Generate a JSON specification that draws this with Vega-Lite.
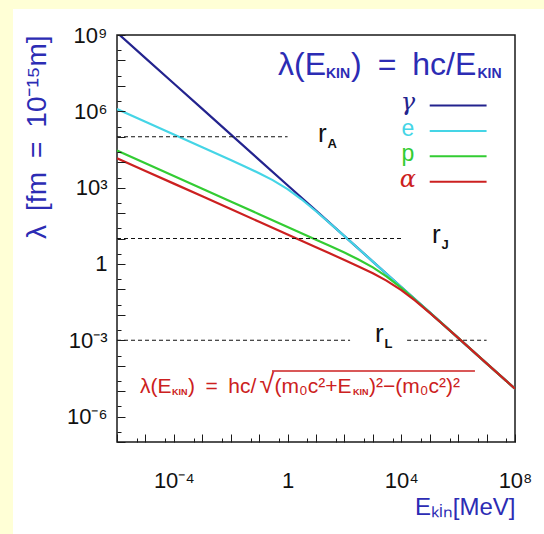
{
  "$schema": "https://vega.github.io/schema/vega-lite/v6.json",
  "width": 398,
  "height": 407,
  "autosize": {"type": "none"},
  "padding": {"left": 117, "top": 35, "right": 29, "bottom": 92},
  "background": "#ffffff",
  "config": {
    "view": {"stroke": "#1a1a1a", "strokeWidth": 1.5},
    "font": "Liberation Sans"
  },
  "resolve": {"axis": {"x": "independent", "y": "independent"}},
  "datasets": {
    "curves": [
      {"s": "γ", "E": 1e-6, "L": 1.23984e9},
      {"s": "γ", "E": 1e-5, "L": 1.23984e8},
      {"s": "γ", "E": 1e-4, "L": 1.23984e7},
      {"s": "γ", "E": 1e-3, "L": 1.23984e6},
      {"s": "γ", "E": 0.01, "L": 123984},
      {"s": "γ", "E": 0.1, "L": 12398.4},
      {"s": "γ", "E": 1, "L": 1239.84},
      {"s": "γ", "E": 10, "L": 123.984},
      {"s": "γ", "E": 100, "L": 12.3984},
      {"s": "γ", "E": 1000, "L": 1.23984},
      {"s": "γ", "E": 10000, "L": 0.123984},
      {"s": "γ", "E": 100000, "L": 0.0123984},
      {"s": "γ", "E": 1000000, "L": 0.00123984},
      {"s": "γ", "E": 10000000, "L": 0.000123984},
      {"s": "γ", "E": 100000000, "L": 0.0000123984},
      {"s": "e", "E": 1e-6, "L": 1226400},
      {"s": "e", "E": 1e-5, "L": 387830},
      {"s": "e", "E": 1e-4, "L": 122640},
      {"s": "e", "E": 1e-3, "L": 38764},
      {"s": "e", "E": 0.01, "L": 12205},
      {"s": "e", "E": 0.03, "L": 6979.1},
      {"s": "e", "E": 0.1, "L": 3701.5},
      {"s": "e", "E": 0.3, "L": 1968.8},
      {"s": "e", "E": 1, "L": 871.93},
      {"s": "e", "E": 3, "L": 356.93},
      {"s": "e", "E": 10, "L": 118.10},
      {"s": "e", "E": 30, "L": 40.642},
      {"s": "e", "E": 100, "L": 12.3355},
      {"s": "e", "E": 300, "L": 4.1258},
      {"s": "e", "E": 1000, "L": 1.23921},
      {"s": "e", "E": 10000, "L": 0.123978},
      {"s": "e", "E": 100000, "L": 0.0123984},
      {"s": "e", "E": 1000000, "L": 0.00123984},
      {"s": "e", "E": 10000000, "L": 0.000123984},
      {"s": "e", "E": 100000000, "L": 0.0000123984},
      {"s": "p", "E": 1e-6, "L": 28621},
      {"s": "p", "E": 1e-5, "L": 9050.9},
      {"s": "p", "E": 1e-4, "L": 2862.1},
      {"s": "p", "E": 1e-3, "L": 905.08},
      {"s": "p", "E": 0.01, "L": 286.21},
      {"s": "p", "E": 0.1, "L": 90.506},
      {"s": "p", "E": 1, "L": 28.613},
      {"s": "p", "E": 10, "L": 9.0268},
      {"s": "p", "E": 30, "L": 5.1842},
      {"s": "p", "E": 100, "L": 2.78877},
      {"s": "p", "E": 300, "L": 1.53435},
      {"s": "p", "E": 1000, "L": 0.73102},
      {"s": "p", "E": 3000, "L": 0.324158},
      {"s": "p", "E": 10000, "L": 0.113768},
      {"s": "p", "E": 30000, "L": 0.040093},
      {"s": "p", "E": 100000, "L": 0.012284},
      {"s": "p", "E": 300000, "L": 0.00411992},
      {"s": "p", "E": 1000000, "L": 0.00123868},
      {"s": "p", "E": 10000000, "L": 0.000123972},
      {"s": "p", "E": 100000000, "L": 0.0000123983},
      {"s": "α", "E": 1e-6, "L": 14360},
      {"s": "α", "E": 1e-5, "L": 4541.0},
      {"s": "α", "E": 1e-4, "L": 1436.0},
      {"s": "α", "E": 1e-3, "L": 454.10},
      {"s": "α", "E": 0.01, "L": 143.60},
      {"s": "α", "E": 0.1, "L": 45.410},
      {"s": "α", "E": 1, "L": 14.359},
      {"s": "α", "E": 10, "L": 4.5379},
      {"s": "α", "E": 30, "L": 2.6165},
      {"s": "α", "E": 100, "L": 1.42644},
      {"s": "α", "E": 300, "L": 0.81287},
      {"s": "α", "E": 1000, "L": 0.42640},
      {"s": "α", "E": 3000, "L": 0.221384},
      {"s": "α", "E": 10000, "L": 0.093845},
      {"s": "α", "E": 30000, "L": 0.036988},
      {"s": "α", "E": 100000, "L": 0.011961},
      {"s": "α", "E": 300000, "L": 0.0040824},
      {"s": "α", "E": 1000000, "L": 0.00123525},
      {"s": "α", "E": 10000000, "L": 0.000123938},
      {"s": "α", "E": 100000000, "L": 0.0000123979}
    ],
    "dashes": [
      {"name": "rA", "x1": 1e-6, "x2": 1, "y": 100000},
      {"name": "rJ", "x1": 1e-6, "x2": 10000, "y": 10},
      {"name": "rL", "x1": 1e-6, "x2": 158, "y": 0.001},
      {"name": "rL", "x1": 16000, "x2": 10000000, "y": 0.001}
    ],
    "rlabels": [
      {"r": "r", "sub": "A", "x": 11.75, "y": 61660},
      {"r": "r", "sub": "J", "x": 120000, "y": 6.67},
      {"r": "r", "sub": "L", "x": 1189, "y": 0.00085}
    ],
    "legend": [
      {"s": "γ", "it": true, "x1": 100000, "x2": 10000000, "tx": 17000, "y": 1700000},
      {"s": "e", "it": false, "x1": 100000, "x2": 10000000, "tx": 17000, "y": 170000},
      {"s": "p", "it": false, "x1": 100000, "x2": 10000000, "tx": 17000, "y": 17000},
      {"s": "α", "it": true, "x1": 100000, "x2": 10000000, "tx": 17000, "y": 1700}
    ],
    "titleAnchor": [{"x": 0.46, "y": 26900000}],
    "formulaAnchor": [{"x": 6.46e-6, "y": 8.5e-6}],
    "overline": [{"x1": 0.283, "x2": 3900000, "y": 6.2e-5}],
    "blank": [{}]
  },
  "layer": [
    {
      "data": {"name": "blank"},
      "mark": {"type": "rect", "color": "#ffffd6"},
      "encoding": {
        "x": {"datum": 1e-30, "type": "quantitative", "scale": {"type": "log", "domain": [1e-6, 1e8], "nice": false}, "axis": null},
        "x2": {"datum": 2.2e-10},
        "y": {"datum": 1e-30, "type": "quantitative", "scale": {"type": "log", "domain": [1e-7, 1e9], "nice": false}, "axis": null},
        "y2": {"datum": 1e30}
      }
    },
    {
      "data": {"name": "blank"},
      "mark": {"type": "rect", "color": "#ffffd6"},
      "encoding": {
        "x": {"datum": 1e-30, "type": "quantitative", "scale": {"type": "log", "domain": [1e-6, 1e8], "nice": false}, "axis": null},
        "x2": {"datum": 1e30},
        "y": {"datum": 1.05e10, "type": "quantitative", "scale": {"type": "log", "domain": [1e-7, 1e9], "nice": false}, "axis": null},
        "y2": {"datum": 1e30}
      }
    },
    {
      "data": {"name": "curves"},
      "mark": {"type": "line", "clip": true, "strokeWidth": 2.2},
      "encoding": {
        "x": {
          "field": "E", "type": "quantitative",
          "scale": {"type": "log", "domain": [1e-6, 1e8], "nice": false},
          "axis": {
            "values": [1e-6, 5e-6, 1e-5, 5e-5, 1e-4, 5e-4, 1e-3, 5e-3, 0.01, 0.05, 0.1, 0.5, 1, 5, 10, 50, 100, 500, 1000, 5000, 10000, 50000, 100000, 500000, 1000000, 5000000, 10000000, 50000000, 100000000],
            "labelExpr": "datum.value == 1e-4 ? '10⁻⁴' : datum.value == 1 ? '1' : datum.value == 1e4 ? '10⁴' : datum.value == 1e8 ? '10⁸' : ''",
            "tickSize": {"condition": {"test": "abs(log(datum.value)/LN10 - round(log(datum.value)/LN10)) < 0.01", "value": -8}, "value": -4},
            "tickColor": "#1a1a1a", "tickWidth": 1,
            "domain": false, "grid": false,
            "labelFont": "Liberation Sans", "labelFontSize": 22, "labelColor": "#111111",
            "labelPadding": 36, "labelFlush": false, "labelOverlap": false, "labelBound": false,
            "title": "Eₖᵢₙ[MeV]", "titleColor": "#2c2cb4", "titleFont": "Liberation Sans", "titleFontSize": 24, "titleFontWeight": "normal",
            "titleAnchor": "end", "titlePadding": 0,
            "zindex": 1
          }
        },
        "y": {
          "field": "L", "type": "quantitative",
          "scale": {"type": "log", "domain": [1e-7, 1e9], "nice": false},
          "axis": {
            "values": [1e-7, 2.5e-7, 1e-6, 2.5e-6, 1e-5, 2.5e-5, 1e-4, 2.5e-4, 1e-3, 2.5e-3, 0.01, 0.025, 0.1, 0.25, 1, 2.5, 10, 25, 100, 250, 1000, 2500, 10000, 25000, 100000, 250000, 1000000, 2500000, 10000000, 25000000, 100000000, 250000000, 1000000000],
            "labelExpr": "datum.value == 1e9 ? '10⁹' : datum.value == 1e6 ? '10⁶' : datum.value == 1e3 ? '10³' : datum.value == 1 ? '1' : datum.value == 1e-3 ? '10⁻³' : datum.value == 1e-6 ? '10⁻⁶' : ''",
            "tickSize": {"condition": {"test": "abs(log(datum.value)/LN10 - round(log(datum.value)/LN10)) < 0.01", "value": -8}, "value": -4},
            "tickColor": "#1a1a1a", "tickWidth": 1,
            "domain": false, "grid": false,
            "labelFont": "Liberation Sans", "labelFontSize": 22, "labelColor": "#111111",
            "labelPadding": 18, "labelFlush": false, "labelOverlap": false, "labelBound": false,
            "title": "λ\u2002[fm\u2002=\u200210⁻¹⁵m]", "titleColor": "#2c2cb4", "titleFont": "Liberation Sans", "titleFontSize": 28, "titleFontWeight": "normal",
            "titleAnchor": "end", "titlePadding": 15,
            "zindex": 1
          }
        },
        "color": {
          "field": "s", "type": "nominal",
          "scale": {"domain": ["γ", "e", "p", "α"], "range": ["#23238e", "#45d5e6", "#33cc33", "#cc2020"]},
          "legend": null
        }
      }
    },
    {
      "data": {"name": "dashes"},
      "mark": {"type": "rule", "strokeDash": [4, 3], "strokeWidth": 1.2, "color": "#111111"},
      "encoding": {
        "x": {"field": "x1", "type": "quantitative", "scale": {"type": "log", "domain": [1e-6, 1e8], "nice": false}, "axis": null},
        "x2": {"field": "x2"},
        "y": {"field": "y", "type": "quantitative", "scale": {"type": "log", "domain": [1e-7, 1e9], "nice": false}, "axis": null}
      }
    },
    {
      "data": {"name": "rlabels"},
      "mark": {"type": "text", "align": "left", "baseline": "alphabetic", "fontSize": 26, "color": "#111111", "font": "Liberation Sans"},
      "encoding": {
        "x": {"field": "x", "type": "quantitative", "scale": {"type": "log", "domain": [1e-6, 1e8], "nice": false}, "axis": null},
        "y": {"field": "y", "type": "quantitative", "scale": {"type": "log", "domain": [1e-7, 1e9], "nice": false}, "axis": null},
        "text": {"field": "r"}
      }
    },
    {
      "data": {"name": "rlabels"},
      "mark": {"type": "text", "align": "left", "baseline": "alphabetic", "fontSize": 13, "fontWeight": "bold", "dx": 9.5, "dy": 6, "color": "#111111", "font": "Liberation Sans"},
      "encoding": {
        "x": {"field": "x", "type": "quantitative", "scale": {"type": "log", "domain": [1e-6, 1e8], "nice": false}, "axis": null},
        "y": {"field": "y", "type": "quantitative", "scale": {"type": "log", "domain": [1e-7, 1e9], "nice": false}, "axis": null},
        "text": {"field": "sub"}
      }
    },
    {
      "data": {"name": "legend"},
      "mark": {"type": "rule", "strokeWidth": 2},
      "encoding": {
        "x": {"field": "x1", "type": "quantitative", "scale": {"type": "log", "domain": [1e-6, 1e8], "nice": false}, "axis": null},
        "x2": {"field": "x2"},
        "y": {"field": "y", "type": "quantitative", "scale": {"type": "log", "domain": [1e-7, 1e9], "nice": false}, "axis": null},
        "color": {"field": "s", "type": "nominal", "scale": {"domain": ["γ", "e", "p", "α"], "range": ["#23238e", "#45d5e6", "#33cc33", "#cc2020"]}, "legend": null}
      }
    },
    {
      "data": {"name": "legend"},
      "transform": [{"filter": "datum.it"}],
      "mark": {"type": "text", "align": "center", "baseline": "alphabetic", "fontSize": 24, "fontStyle": "italic", "dy": 5, "font": "DejaVu Serif"},
      "encoding": {
        "x": {"field": "tx", "type": "quantitative", "scale": {"type": "log", "domain": [1e-6, 1e8], "nice": false}, "axis": null},
        "y": {"field": "y", "type": "quantitative", "scale": {"type": "log", "domain": [1e-7, 1e9], "nice": false}, "axis": null},
        "text": {"field": "s"},
        "color": {"field": "s", "type": "nominal", "scale": {"domain": ["γ", "e", "p", "α"], "range": ["#2c2cb4", "#45d5e6", "#33cc33", "#cc2020"]}, "legend": null}
      }
    },
    {
      "data": {"name": "legend"},
      "transform": [{"filter": "!datum.it"}],
      "mark": {"type": "text", "align": "center", "baseline": "alphabetic", "fontSize": 23, "dy": 5, "font": "Liberation Sans"},
      "encoding": {
        "x": {"field": "tx", "type": "quantitative", "scale": {"type": "log", "domain": [1e-6, 1e8], "nice": false}, "axis": null},
        "y": {"field": "y", "type": "quantitative", "scale": {"type": "log", "domain": [1e-7, 1e9], "nice": false}, "axis": null},
        "text": {"field": "s"},
        "color": {"field": "s", "type": "nominal", "scale": {"domain": ["γ", "e", "p", "α"], "range": ["#2c2cb4", "#45d5e6", "#33cc33", "#cc2020"]}, "legend": null}
      }
    },
    {
      "data": {"name": "titleAnchor"},
      "mark": {"type": "text", "text": "λ(E", "align": "left", "baseline": "alphabetic", "fontSize": 32, "color": "#2c2cb4", "font": "Liberation Sans", "dx": 0},
      "encoding": {
        "x": {"field": "x", "type": "quantitative", "scale": {"type": "log", "domain": [1e-6, 1e8], "nice": false}, "axis": null},
        "y": {"field": "y", "type": "quantitative", "scale": {"type": "log", "domain": [1e-7, 1e9], "nice": false}, "axis": null}
      }
    },
    {
      "data": {"name": "titleAnchor"},
      "mark": {"type": "text", "text": "KIN", "align": "left", "baseline": "alphabetic", "fontSize": 14, "fontWeight": "bold", "color": "#2c2cb4", "font": "Liberation Sans", "dx": 48, "dy": 3},
      "encoding": {
        "x": {"field": "x", "type": "quantitative", "scale": {"type": "log", "domain": [1e-6, 1e8], "nice": false}, "axis": null},
        "y": {"field": "y", "type": "quantitative", "scale": {"type": "log", "domain": [1e-7, 1e9], "nice": false}, "axis": null}
      }
    },
    {
      "data": {"name": "titleAnchor"},
      "mark": {"type": "text", "text": ")\u2002=\u2002hc/E", "align": "left", "baseline": "alphabetic", "fontSize": 32, "color": "#2c2cb4", "font": "Liberation Sans", "dx": 73},
      "encoding": {
        "x": {"field": "x", "type": "quantitative", "scale": {"type": "log", "domain": [1e-6, 1e8], "nice": false}, "axis": null},
        "y": {"field": "y", "type": "quantitative", "scale": {"type": "log", "domain": [1e-7, 1e9], "nice": false}, "axis": null}
      }
    },
    {
      "data": {"name": "titleAnchor"},
      "mark": {"type": "text", "text": "KIN", "align": "left", "baseline": "alphabetic", "fontSize": 14, "fontWeight": "bold", "color": "#2c2cb4", "font": "Liberation Sans", "dx": 199.5, "dy": 3},
      "encoding": {
        "x": {"field": "x", "type": "quantitative", "scale": {"type": "log", "domain": [1e-6, 1e8], "nice": false}, "axis": null},
        "y": {"field": "y", "type": "quantitative", "scale": {"type": "log", "domain": [1e-7, 1e9], "nice": false}, "axis": null}
      }
    },
    {
      "data": {"name": "formulaAnchor"},
      "mark": {"type": "text", "text": "λ(E", "align": "left", "baseline": "alphabetic", "fontSize": 21, "color": "#cc2020", "font": "Liberation Sans", "dx": 0},
      "encoding": {
        "x": {"field": "x", "type": "quantitative", "scale": {"type": "log", "domain": [1e-6, 1e8], "nice": false}, "axis": null},
        "y": {"field": "y", "type": "quantitative", "scale": {"type": "log", "domain": [1e-7, 1e9], "nice": false}, "axis": null}
      }
    },
    {
      "data": {"name": "formulaAnchor"},
      "mark": {"type": "text", "text": "KIN", "align": "left", "baseline": "alphabetic", "fontSize": 9, "fontWeight": "bold", "color": "#cc2020", "font": "Liberation Sans", "dx": 32, "dy": 2},
      "encoding": {
        "x": {"field": "x", "type": "quantitative", "scale": {"type": "log", "domain": [1e-6, 1e8], "nice": false}, "axis": null},
        "y": {"field": "y", "type": "quantitative", "scale": {"type": "log", "domain": [1e-7, 1e9], "nice": false}, "axis": null}
      }
    },
    {
      "data": {"name": "formulaAnchor"},
      "mark": {"type": "text", "text": ")\u2002=\u2002hc/", "align": "left", "baseline": "alphabetic", "fontSize": 21, "color": "#cc2020", "font": "Liberation Sans", "dx": 48},
      "encoding": {
        "x": {"field": "x", "type": "quantitative", "scale": {"type": "log", "domain": [1e-6, 1e8], "nice": false}, "axis": null},
        "y": {"field": "y", "type": "quantitative", "scale": {"type": "log", "domain": [1e-7, 1e9], "nice": false}, "axis": null}
      }
    },
    {
      "data": {"name": "formulaAnchor"},
      "mark": {"type": "text", "text": "√", "align": "left", "baseline": "alphabetic", "fontSize": 27, "color": "#cc2020", "font": "Liberation Sans", "dx": 119.5},
      "encoding": {
        "x": {"field": "x", "type": "quantitative", "scale": {"type": "log", "domain": [1e-6, 1e8], "nice": false}, "axis": null},
        "y": {"field": "y", "type": "quantitative", "scale": {"type": "log", "domain": [1e-7, 1e9], "nice": false}, "axis": null}
      }
    },
    {
      "data": {"name": "formulaAnchor"},
      "mark": {"type": "text", "text": "(m₀c²+E", "align": "left", "baseline": "alphabetic", "fontSize": 21, "color": "#cc2020", "font": "Liberation Sans", "dx": 134.5},
      "encoding": {
        "x": {"field": "x", "type": "quantitative", "scale": {"type": "log", "domain": [1e-6, 1e8], "nice": false}, "axis": null},
        "y": {"field": "y", "type": "quantitative", "scale": {"type": "log", "domain": [1e-7, 1e9], "nice": false}, "axis": null}
      }
    },
    {
      "data": {"name": "formulaAnchor"},
      "mark": {"type": "text", "text": "KIN", "align": "left", "baseline": "alphabetic", "fontSize": 9, "fontWeight": "bold", "color": "#cc2020", "font": "Liberation Sans", "dx": 213, "dy": 2},
      "encoding": {
        "x": {"field": "x", "type": "quantitative", "scale": {"type": "log", "domain": [1e-6, 1e8], "nice": false}, "axis": null},
        "y": {"field": "y", "type": "quantitative", "scale": {"type": "log", "domain": [1e-7, 1e9], "nice": false}, "axis": null}
      }
    },
    {
      "data": {"name": "formulaAnchor"},
      "mark": {"type": "text", "text": ")²−(m₀c²)²", "align": "left", "baseline": "alphabetic", "fontSize": 21, "color": "#cc2020", "font": "Liberation Sans", "dx": 229},
      "encoding": {
        "x": {"field": "x", "type": "quantitative", "scale": {"type": "log", "domain": [1e-6, 1e8], "nice": false}, "axis": null},
        "y": {"field": "y", "type": "quantitative", "scale": {"type": "log", "domain": [1e-7, 1e9], "nice": false}, "axis": null}
      }
    },
    {
      "data": {"name": "overline"},
      "mark": {"type": "rule", "strokeWidth": 1.5, "color": "#cc2020"},
      "encoding": {
        "x": {"field": "x1", "type": "quantitative", "scale": {"type": "log", "domain": [1e-6, 1e8], "nice": false}, "axis": null},
        "x2": {"field": "x2"},
        "y": {"field": "y", "type": "quantitative", "scale": {"type": "log", "domain": [1e-7, 1e9], "nice": false}, "axis": null}
      }
    }
  ]
}
